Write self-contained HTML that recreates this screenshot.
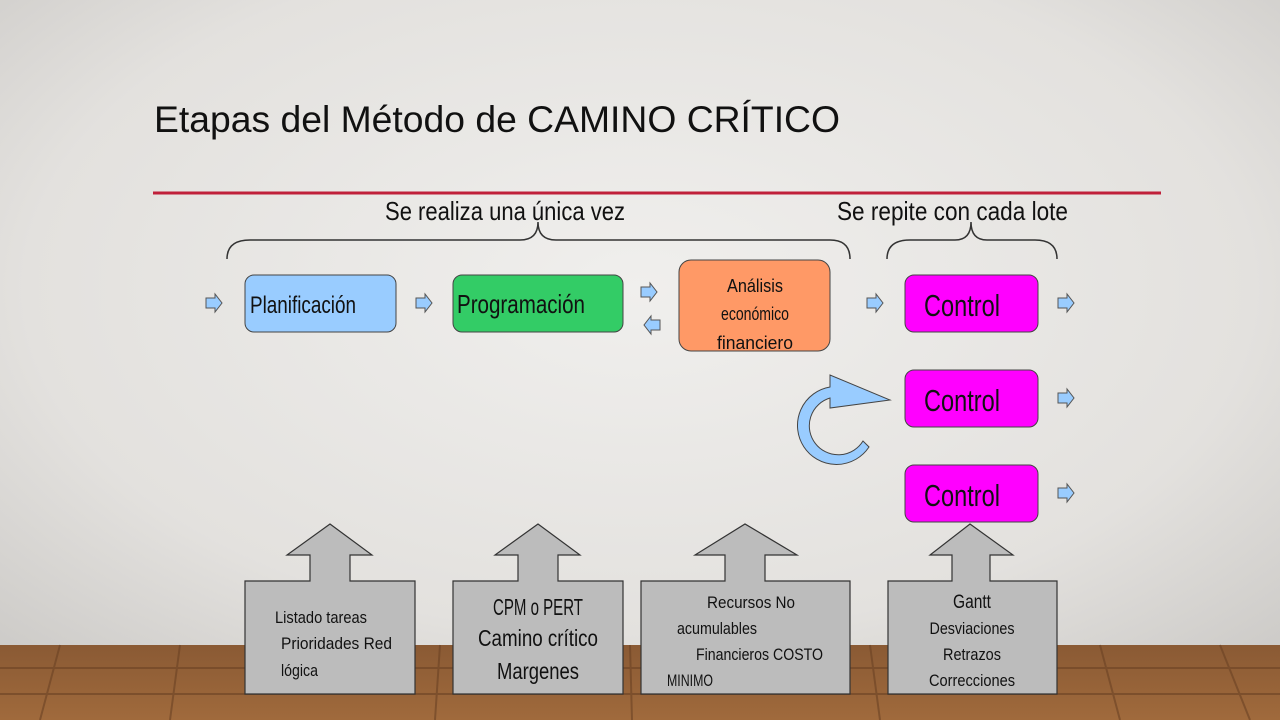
<!DOCTYPE html>
<html><head><meta charset="utf-8"><style>
html,body{margin:0;padding:0;width:1280px;height:720px;overflow:hidden}
svg{display:block}
text{font-family:"Liberation Sans",sans-serif;fill:#111}
</style></head><body>
<svg width="1280" height="720" viewBox="0 0 1280 720" xmlns="http://www.w3.org/2000/svg">
<defs>
<radialGradient id="bg" cx="50%" cy="40%" r="80%">
<stop offset="0" stop-color="#f0efed"/><stop offset="0.6" stop-color="#e3e1de"/><stop offset="1" stop-color="#c4c2bf"/>
</radialGradient>
<linearGradient id="wood" x1="0" y1="0" x2="0" y2="1">
<stop offset="0" stop-color="#8a5a34"/><stop offset="1" stop-color="#a06a3c"/>
</linearGradient>
<g id="sa"><path d="M0,-5 H9 V-9 L16,0 L9,9 V5 H0 Z" fill="#99ccff" stroke="#555" stroke-width="1"/></g>
</defs>
<rect width="1280" height="720" fill="url(#bg)"/>
<rect x="0" y="645" width="1280" height="75" fill="url(#wood)"/>
<g stroke="#6b4224" stroke-width="2" opacity="0.6">
<line x1="0" y1="668" x2="1280" y2="668"/><line x1="0" y1="694" x2="1280" y2="694"/>
<line x1="60" y1="645" x2="40" y2="720"/><line x1="180" y1="645" x2="170" y2="720"/><line x1="440" y1="645" x2="435" y2="720"/><line x1="630" y1="645" x2="632" y2="720"/><line x1="870" y1="645" x2="880" y2="720"/><line x1="1100" y1="645" x2="1120" y2="720"/><line x1="1220" y1="645" x2="1250" y2="720"/>
</g>
<text x="154" y="132" font-size="37" fill="#222" textLength="686" lengthAdjust="spacingAndGlyphs">Etapas del Método de CAMINO CRÍTICO</text>
<line x1="153" y1="193" x2="1161" y2="193" stroke="#c0203a" stroke-width="3"/>
<text x="385" y="220" font-size="26" textLength="240" lengthAdjust="spacingAndGlyphs">Se realiza una única vez</text>
<text x="837" y="220" font-size="26" textLength="231" lengthAdjust="spacingAndGlyphs">Se repite con cada lote</text>
<g fill="none" stroke="#333" stroke-width="1.5">
<path d="M227,259 Q227,240 250,240 H520 Q538,240 538,222 Q538,240 556,240 H830 Q850,240 850,259"/>
<path d="M887,259 Q887,240 910,240 H955 Q971,240 971,222 Q971,240 987,240 H1035 Q1057,240 1057,259"/>
</g>
<rect x="245" y="275" width="151" height="57" rx="9" fill="#99ccff" stroke="#444"/>
<text x="250" y="313" font-size="24" textLength="106" lengthAdjust="spacingAndGlyphs">Planificación</text>
<rect x="453" y="275" width="170" height="57" rx="9" fill="#33cc66" stroke="#444"/>
<text x="457" y="313" font-size="26" textLength="128" lengthAdjust="spacingAndGlyphs">Programación</text>
<rect x="679" y="260" width="151" height="91" rx="12" fill="#ff9966" stroke="#444"/>
<text x="755" y="292" font-size="18" text-anchor="middle" textLength="56" lengthAdjust="spacingAndGlyphs">Análisis</text>
<text x="755" y="320" font-size="18" text-anchor="middle" textLength="68" lengthAdjust="spacingAndGlyphs">económico</text>
<text x="755" y="349" font-size="18" text-anchor="middle" textLength="76" lengthAdjust="spacingAndGlyphs">financiero</text>
<g fill="#ff00ff" stroke="#444">
<rect x="905" y="275" width="133" height="57" rx="9"/>
<rect x="905" y="370" width="133" height="57" rx="9"/>
<rect x="905" y="465" width="133" height="57" rx="9"/>
</g>
<text x="924" y="316" font-size="31" textLength="76" lengthAdjust="spacingAndGlyphs">Control</text>
<text x="924" y="411" font-size="31" textLength="76" lengthAdjust="spacingAndGlyphs">Control</text>
<text x="924" y="506" font-size="31" textLength="76" lengthAdjust="spacingAndGlyphs">Control</text>
<use href="#sa" x="206" y="303"/>
<use href="#sa" x="416" y="303"/>
<use href="#sa" x="641" y="292"/>
<use href="#sa" transform="translate(660,325) scale(-1,1)"/>
<use href="#sa" x="867" y="303"/>
<use href="#sa" x="1058" y="303"/>
<use href="#sa" x="1058" y="398"/>
<use href="#sa" x="1058" y="493"/>
<path d="M830,398 A29,29 0 1 0 863,441 L869,447 A39,39 0 1 1 830,387 L830,375 L890,400 L830,408 Z" fill="#99ccff" stroke="#444" stroke-width="1"/>
<g fill="#bcbcbc" stroke="#333" stroke-width="1.2">
<path d="M245,581 H310 V555 H287 L330,524 L372,555 H350 V581 H415 V694 H245 Z"/>
<path d="M453,581 H518 V555 H495 L538,524 L580,555 H558 V581 H623 V694 H453 Z"/>
<path d="M641,581 H725 V555 H695 L745,524 L797,555 H765 V581 H850 V694 H641 Z"/>
<path d="M888,581 H952 V555 H930 L970,524 L1013,555 H990 V581 H1057 V694 H888 Z"/>
</g>
<g font-size="17">
<text x="275" y="623" textLength="92" lengthAdjust="spacingAndGlyphs">Listado  tareas</text>
<text x="281" y="649" textLength="111" lengthAdjust="spacingAndGlyphs">Prioridades   Red</text>
<text x="281" y="676" textLength="37" lengthAdjust="spacingAndGlyphs">lógica</text>
<text x="707" y="608" textLength="88" lengthAdjust="spacingAndGlyphs">Recursos  No</text>
<text x="677" y="634" textLength="80" lengthAdjust="spacingAndGlyphs">acumulables</text>
<text x="696" y="660" textLength="127" lengthAdjust="spacingAndGlyphs">Financieros  COSTO</text>
<text x="667" y="686" textLength="46" lengthAdjust="spacingAndGlyphs">MINIMO</text>
<text x="972" y="608" text-anchor="middle" font-size="19" textLength="38" lengthAdjust="spacingAndGlyphs">Gantt</text>
<text x="972" y="634" text-anchor="middle" textLength="85" lengthAdjust="spacingAndGlyphs">Desviaciones</text>
<text x="972" y="660" text-anchor="middle" textLength="58" lengthAdjust="spacingAndGlyphs">Retrazos</text>
<text x="972" y="686" text-anchor="middle" textLength="86" lengthAdjust="spacingAndGlyphs">Correcciones</text>
</g>
<g font-size="23" text-anchor="middle">
<text x="538" y="615" textLength="90" lengthAdjust="spacingAndGlyphs">CPM o PERT</text>
<text x="538" y="646" textLength="120" lengthAdjust="spacingAndGlyphs">Camino crítico</text>
<text x="538" y="679" textLength="82" lengthAdjust="spacingAndGlyphs">Margenes</text>
</g>
</svg>
</body></html>
